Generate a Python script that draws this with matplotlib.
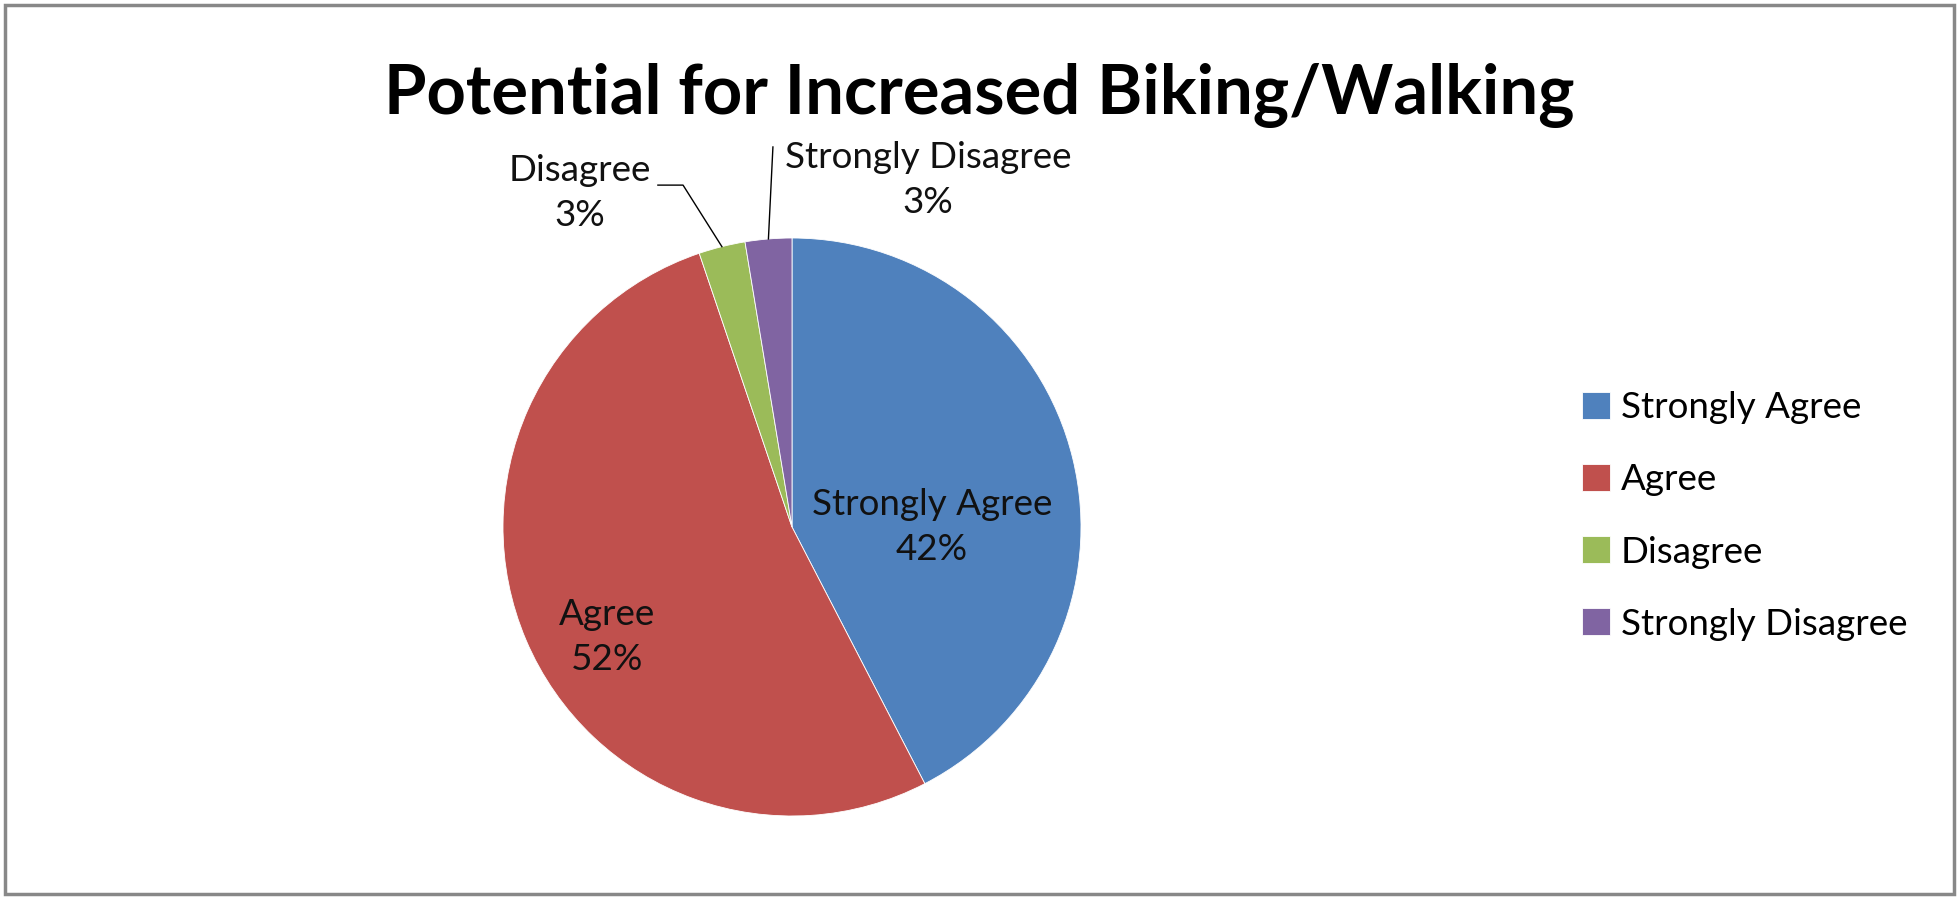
import matplotlib
matplotlib.use('Agg')
import matplotlib.pyplot as plt
from matplotlib.patches import Rectangle
import numpy as np

# Survey answers (percent of respondents)
categories = ['Strongly Agree', 'Agree', 'Disagree', 'Strongly Disagree']
shares = [42.4, 52.4, 2.6, 2.6]
colors = ['#4F81BD', '#C0504D', '#9BBB59', '#8064A2']
title = 'Potential for Increased Biking/Walking'

plt.rcParams['font.family'] = ['Lato', 'DejaVu Sans']

W, H = 1959, 898
fig = plt.figure(figsize=(W / 100, H / 100), dpi=100)

# pie centre / radius in pixels
cx, cy, r = 792, 527, 289
ax = fig.add_axes([(cx - r) / W, (H - cy - r) / H, 2 * r / W, 2 * r / H])
wedges, _ = ax.pie(shares, colors=colors, startangle=90, counterclock=False,
                   wedgeprops=dict(linewidth=0.6, edgecolor='white'))
ax.set_xlim(-1, 1)
ax.set_ylim(-1, 1)
ax.set_aspect('equal')
ax.axis('off')

# data labels (position of each text block, in pie radius units)
label_pos = [(0.484, 0.0), (-0.640, -0.380), (-0.734, 1.155), (0.471, 1.20)]
for name, val, (lx, ly) in zip(categories, shares, label_pos):
    ax.text(lx, ly, f'{name}\n{val:.0f}%', ha='center', va='center',
            fontsize=26.5, linespacing=1.45, color='#111111', clip_on=False)

# leader lines for the two thin slices
def rim(w):
    a = np.deg2rad((w.theta1 + w.theta2) / 2)
    return np.cos(a), np.sin(a)

x2, y2 = rim(wedges[2])
ax.plot([-0.464, -0.377, x2], [1.183, 1.183, y2], color='black', lw=1,
        clip_on=False)
x3, y3 = rim(wedges[3])
ax.plot([-0.066, x3], [1.315, y3], color='black', lw=1, clip_on=False)

fig.text(0.5, 1 - 95 / H, title, ha='center', va='center',
         fontsize=49.5, fontweight='bold', color='black')

fig.legend(wedges, categories, loc='center left',
           bbox_to_anchor=(1549 / W, 1 - 516 / H), frameon=False,
           fontsize=26.5, handlelength=0.75, handleheight=0.75,
           handletextpad=0.3, labelspacing=1.06)

fig.patches.append(Rectangle((5 / W, 4 / H), 1 - 10 / W, 1 - 9 / H,
                             transform=fig.transFigure, fill=False,
                             edgecolor='#888888', linewidth=2.5))

fig.savefig('out.png', dpi=100)
